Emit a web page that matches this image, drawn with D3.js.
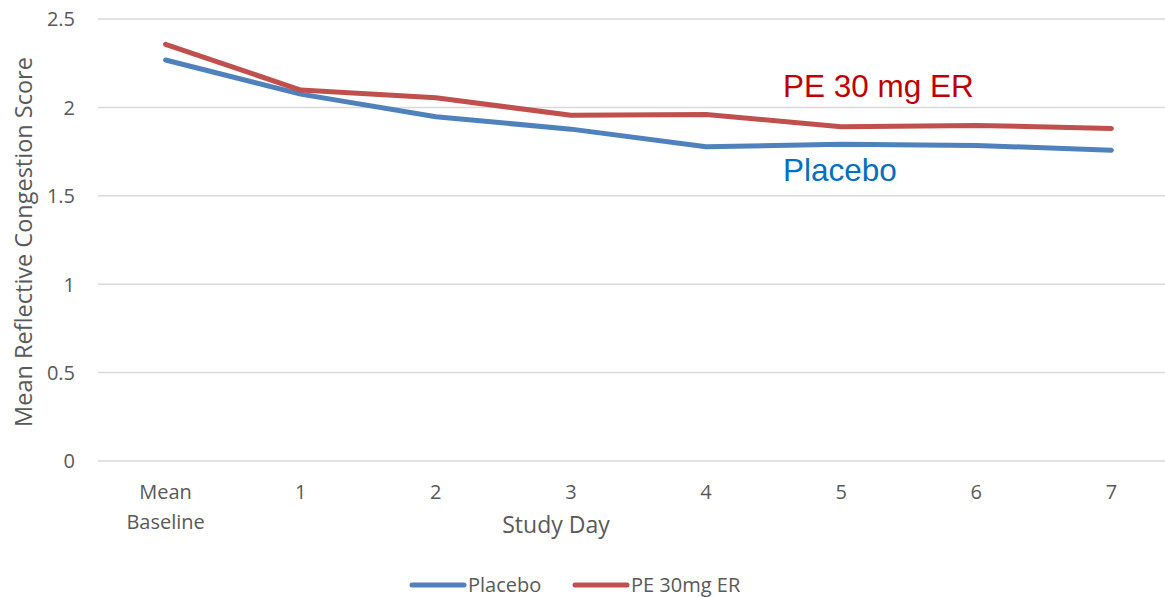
<!DOCTYPE html>
<html><head><meta charset="utf-8">
<script src="https://cdn.jsdelivr.net/npm/d3@7"></script>
<style>body{margin:0;background:#fff}svg{display:block}</style>
</head><body>
<svg id="c" width="1165" height="597"></svg>
<script>
const categories = ["Mean Baseline","1","2","3","4","5","6","7"];
const placebo = [2.268, 2.075, 1.947, 1.877, 1.777, 1.791, 1.785, 1.758];
const pe30 = [2.357, 2.098, 2.054, 1.956, 1.960, 1.890, 1.898, 1.881];
const yTicks = [0, 0.5, 1, 1.5, 2, 2.5];
const seriesNames = ["Placebo", "PE 30mg ER"];

(function() {
const svg = d3.select("#c");
const pl = 98, pr = 1179, pt = 19, pb = 461;
const x = d3.scaleBand().domain(categories).range([pl, pr]);
const y = d3.scaleLinear().domain([0, 2.5]).range([pb, pt]);
const font = "'Open Sans', 'Noto Sans', sans-serif";
const grey = "#595959";

svg.append("g").selectAll("line").data(yTicks).join("line")
  .attr("x1", pl).attr("x2", pr)
  .attr("y1", d => y(d)).attr("y2", d => y(d))
  .attr("stroke", "#d9d9d9").attr("stroke-width", 1.5);

const yAxis = svg.append("g").attr("transform", `translate(${pl},0)`)
  .call(d3.axisLeft(y).tickValues(yTicks).tickFormat(d3.format("")).tickSize(0).tickPadding(23));
yAxis.select(".domain").remove();
yAxis.selectAll("text").attr("font-family", font).attr("font-size", 20).attr("fill", grey).attr("dy", "0.34em");

const xAxis = svg.append("g").attr("transform", `translate(0,${pb})`)
  .call(d3.axisBottom(x).tickSize(0).tickPadding(0));
xAxis.select(".domain").remove();
xAxis.selectAll(".tick text").each(function(d) {
  const t = d3.select(this).text(null).attr("font-family", font).attr("font-size", 20).attr("fill", grey).attr("y", 0).attr("dy", null);
  const words = d.split(" ");
  words.forEach((w, i) => t.append("tspan").attr("x", 0).attr("y", 38 + i * 30).text(w));
});

svg.append("text").attr("x", 556).attr("y", 533).attr("text-anchor", "middle")
  .attr("font-family", font).attr("font-size", 23).attr("fill", grey).text("Study Day");
svg.append("text").attr("transform", "translate(32,242) rotate(-90)").attr("text-anchor", "middle")
  .attr("font-family", font).attr("font-size", 23.5).attr("fill", grey).text("Mean Reflective Congestion Score");

const line = d3.line().x((d, i) => x(categories[i]) + x.bandwidth() / 2).y(d => y(d));
const colors = ["#4f81bd", "#c0504d"];
[placebo, pe30].forEach((s, k) => {
  svg.append("path").datum(s).attr("d", line).attr("fill", "none")
    .attr("stroke", colors[k]).attr("stroke-width", 5).attr("stroke-linecap", "round").attr("stroke-linejoin", "round");
});

svg.append("text").attr("x", 783).attr("y", 97).attr("font-family", "'Liberation Sans', Arial, sans-serif")
  .attr("font-size", 31.5).attr("fill", "#c00000").text("PE 30 mg ER");
svg.append("text").attr("x", 783).attr("y", 181).attr("font-family", "'Liberation Sans', Arial, sans-serif")
  .attr("font-size", 31.5).attr("fill", "#0070c0").text("Placebo");

const legend = [{x: 410, name: seriesNames[0], c: colors[0]}, {x: 573, name: seriesNames[1], c: colors[1]}];
legend.forEach(l => {
  svg.append("line").attr("x1", l.x + 2).attr("x2", l.x + 54).attr("y1", 585).attr("y2", 585)
    .attr("stroke", l.c).attr("stroke-width", 5).attr("stroke-linecap", "round");
  svg.append("text").attr("x", l.x + 58).attr("y", 592).attr("font-family", font).attr("font-size", 20)
    .attr("fill", grey).text(l.name);
});
})();
</script>
</body></html>
